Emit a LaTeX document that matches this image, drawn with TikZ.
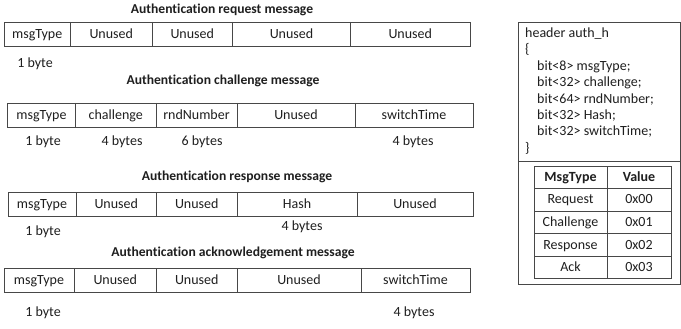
\documentclass[tikz,border=0pt]{standalone}
\usepackage{fontspec}
\setmainfont{Carlito}[Ligatures=NoCommon]
\begin{document}
\begin{tikzpicture}[x=1pt,y=-1pt,
  frame/.style={draw=black!72,line width=0.9pt},
  txt/.style={inner sep=0pt,text height=9.8pt,text depth=0.8pt,text=black!88},
  cell/.style={txt,font=\fontsize{14}{16}\selectfont},
  ttl/.style={txt,font=\fontsize{13.6}{16}\selectfont\bfseries},
  code/.style={txt,anchor=west,font=\fontsize{14}{16}\selectfont},
  tbl/.style={txt,font=\fontsize{14}{16}\selectfont}]
\useasboundingbox (0,0) rectangle (681,329);
\fill[white] (0,0) rectangle (681,329);

% ---------- Row 1: request ----------
\node[ttl] (t1) at (222,9) {Authentication request message};
\draw[frame] (4,22) rectangle (470,46);
\foreach \x in {70.5,152,232.5,350.5} \draw[frame] (\x,22) -- (\x,46);
\node[cell] (r1a) at (37.25,34) {msgType};
\node[cell] (r1b) at (111.25,34) {Unused};
\node[cell] (r1c) at (192.25,34) {Unused};
\node[cell] (r1d) at (291.5,34) {Unused};
\node[cell] (r1e) at (410.25,34) {Unused};
\node[cell] (l1a) at (35,63) {1 byte};

% ---------- Row 2: challenge ----------
\node[ttl] (t2) at (223,80) {Authentication challenge message};
\draw[frame] (7.5,103) rectangle (473,127);
\foreach \x in {75.5,156,237,355} \draw[frame] (\x,103) -- (\x,127);
\node[cell] (r2a) at (41.5,115) {msgType};
\node[cell] (r2b) at (115.75,115) {challenge};
\node[cell] (r2c) at (196.5,115) {rndNumber};
\node[cell] (r2d) at (296,115) {Unused};
\node[cell] (r2e) at (414,115) {switchTime};
\node[cell] (l2a) at (43,141) {1 byte};
\node[cell] (l2b) at (122,141) {4 bytes};
\node[cell] (l2c) at (202,141) {6 bytes};
\node[cell] (l2d) at (413,141) {4 bytes};

% ---------- Row 3: response ----------
\node[ttl] (t3) at (237,176) {Authentication response message};
\draw[frame] (8,192) rectangle (473,216);
\foreach \x in {76,156.5,237,357} \draw[frame] (\x,192) -- (\x,216);
\node[cell] (r3a) at (42,204) {msgType};
\node[cell] (r3b) at (116.25,204) {Unused};
\node[cell] (r3c) at (196.75,204) {Unused};
\node[cell] (r3d) at (297,204) {Hash};
\node[cell] (r3e) at (415,204) {Unused};
\node[cell] (l3a) at (43,231) {1 byte};
\node[cell] (l3b) at (302,226) {4 bytes};

% ---------- Row 4: acknowledgement ----------
\node[ttl] (t4) at (233,252) {Authentication acknowledgement message};
\draw[frame] (4,268) rectangle (470,292);
\foreach \x in {74,156.5,237,361} \draw[frame] (\x,268) -- (\x,292);
\node[cell] (r4a) at (39,280) {msgType};
\node[cell] (r4b) at (115.25,280) {Unused};
\node[cell] (r4c) at (196.75,280) {Unused};
\node[cell] (r4d) at (299,280) {Unused};
\node[cell] (r4e) at (415.5,280) {switchTime};
\node[cell] (l4a) at (43,312) {1 byte};
\node[cell] (l4b) at (414,312) {4 bytes};

% ---------- Right panel ----------
\draw[frame] (518,22) rectangle (680,284);
\draw[frame] (518,161) -- (680,161);
\node[code] (c0) at (525,33) {header auth\_h};
\node[code] (c1) at (525,49.4) {\{};
\node[code] (c2) at (537,65.8) {bit<8> msgType;};
\node[code] (c3) at (537,82.2) {bit<32> challenge;};
\node[code] (c4) at (537,98.6) {bit<64> rndNumber;};
\node[code] (c5) at (537,115) {bit<32> Hash;};
\node[code] (c6) at (537,131.4) {bit<32> switchTime;};
\node[code] (c7) at (525,147.8) {\}};

\draw[frame] (534,166) rectangle (671,278);
\draw[frame] (607,166) -- (607,278);
\foreach \y in {188,211,233,256} \draw[frame] (534,\y) -- (671,\y);
\node[tbl,font=\fontsize{14}{16}\selectfont\bfseries] (h1) at (570.5,177) {MsgType};
\node[tbl,font=\fontsize{14}{16}\selectfont\bfseries] (h2) at (639,177) {Value};
\node[tbl] (k1) at (570.5,199.5) {Request};
\node[tbl] (v1) at (639,199.5) {0x00};
\node[tbl] (k2) at (570.5,222) {Challenge};
\node[tbl] (v2) at (639,222) {0x01};
\node[tbl] (k3) at (570.5,244.5) {Response};
\node[tbl] (v3) at (639,244.5) {0x02};
\node[tbl] (k4) at (570.5,267) {Ack};
\node[tbl] (v4) at (639,267) {0x03};
\end{tikzpicture}
\end{document}
